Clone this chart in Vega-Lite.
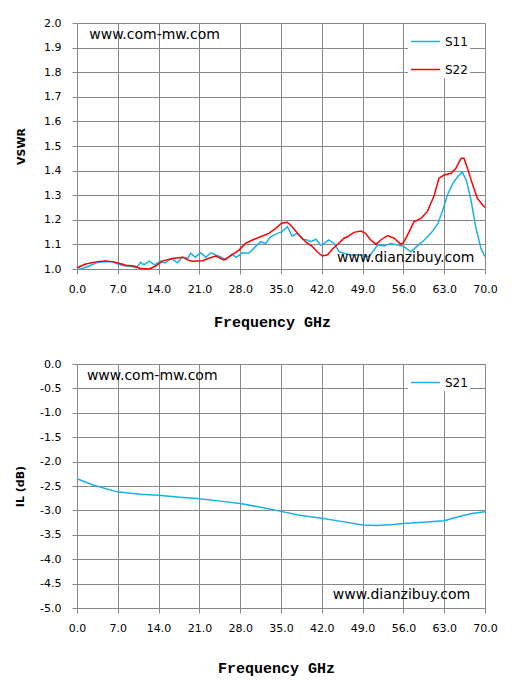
{
  "$schema": "https://vega.github.io/schema/vega-lite/v6.json",
  "background": "white",
  "padding": {"left": 14, "top": 17, "right": 5, "bottom": 5},
  "config": {
    "view": {"stroke": null},
    "font": "DejaVu Sans",
    "axis": {
      "gridColor": "#878787",
      "gridOpacity": 1,
      "gridWidth": 1,
      "domainColor": "#878787",
      "tickColor": "#878787",
      "tickSize": 5,
      "labelColor": "#000000",
      "labelFont": "DejaVu Sans",
      "labelFontSize": 11,
      "labelFlush": false,
      "labelOverlap": false,
      "titleColor": "#000000"
    },
    "legend": {
      "symbolType": "stroke",
      "symbolSize": 841,
      "symbolStrokeWidth": 1.5,
      "labelFont": "DejaVu Sans",
      "labelFontSize": 12,
      "labelColor": "#000000",
      "labelOffset": 4,
      "padding": 2,
      "rowPadding": 6,
      "fillColor": "white",
      "strokeColor": null
    }
  },
  "datasets": {
    "vswr": [
      {"s": "S11", "f": 0, "v": 1.01}, {"s": "S11", "f": 0.7, "v": 1.0}, {"s": "S11", "f": 1.9, "v": 1.01},
      {"s": "S11", "f": 3.3, "v": 1.025}, {"s": "S11", "f": 4.9, "v": 1.03}, {"s": "S11", "f": 6.1, "v": 1.028},
      {"s": "S11", "f": 7.0, "v": 1.02}, {"s": "S11", "f": 8.1, "v": 1.013}, {"s": "S11", "f": 9.3, "v": 1.01},
      {"s": "S11", "f": 10.2, "v": 1.005}, {"s": "S11", "f": 10.9, "v": 1.027}, {"s": "S11", "f": 11.5, "v": 1.017},
      {"s": "S11", "f": 12.4, "v": 1.032}, {"s": "S11", "f": 13.3, "v": 1.017}, {"s": "S11", "f": 14.3, "v": 1.032},
      {"s": "S11", "f": 15.1, "v": 1.025}, {"s": "S11", "f": 16.2, "v": 1.043}, {"s": "S11", "f": 17.2, "v": 1.025},
      {"s": "S11", "f": 18.1, "v": 1.048}, {"s": "S11", "f": 19.0, "v": 1.043}, {"s": "S11", "f": 19.5, "v": 1.064},
      {"s": "S11", "f": 20.3, "v": 1.048}, {"s": "S11", "f": 21.2, "v": 1.066}, {"s": "S11", "f": 22.1, "v": 1.048},
      {"s": "S11", "f": 23.0, "v": 1.066}, {"s": "S11", "f": 23.8, "v": 1.057}, {"s": "S11", "f": 24.6, "v": 1.05},
      {"s": "S11", "f": 25.5, "v": 1.037}, {"s": "S11", "f": 26.6, "v": 1.061}, {"s": "S11", "f": 27.3, "v": 1.047},
      {"s": "S11", "f": 28.4, "v": 1.066}, {"s": "S11", "f": 29.5, "v": 1.064}, {"s": "S11", "f": 30.6, "v": 1.091},
      {"s": "S11", "f": 31.5, "v": 1.111}, {"s": "S11", "f": 32.4, "v": 1.104}, {"s": "S11", "f": 33.2, "v": 1.131},
      {"s": "S11", "f": 34.4, "v": 1.145}, {"s": "S11", "f": 35.2, "v": 1.152}, {"s": "S11", "f": 36.1, "v": 1.172},
      {"s": "S11", "f": 36.9, "v": 1.134}, {"s": "S11", "f": 37.8, "v": 1.145}, {"s": "S11", "f": 38.7, "v": 1.121},
      {"s": "S11", "f": 39.5, "v": 1.118}, {"s": "S11", "f": 40.1, "v": 1.111}, {"s": "S11", "f": 41.0, "v": 1.121},
      {"s": "S11", "f": 41.8, "v": 1.097}, {"s": "S11", "f": 42.4, "v": 1.104}, {"s": "S11", "f": 43.2, "v": 1.118},
      {"s": "S11", "f": 44.1, "v": 1.104}, {"s": "S11", "f": 45.0, "v": 1.07}, {"s": "S11", "f": 45.8, "v": 1.064},
      {"s": "S11", "f": 47.0, "v": 1.057}, {"s": "S11", "f": 48.7, "v": 1.057}, {"s": "S11", "f": 50.1, "v": 1.05},
      {"s": "S11", "f": 51.6, "v": 1.098}, {"s": "S11", "f": 52.7, "v": 1.094}, {"s": "S11", "f": 53.8, "v": 1.104},
      {"s": "S11", "f": 55.0, "v": 1.098}, {"s": "S11", "f": 56.1, "v": 1.091}, {"s": "S11", "f": 57.3, "v": 1.07},
      {"s": "S11", "f": 58.4, "v": 1.094}, {"s": "S11", "f": 59.6, "v": 1.118}, {"s": "S11", "f": 60.7, "v": 1.145},
      {"s": "S11", "f": 61.9, "v": 1.183}, {"s": "S11", "f": 62.7, "v": 1.236}, {"s": "S11", "f": 63.6, "v": 1.304},
      {"s": "S11", "f": 64.5, "v": 1.348}, {"s": "S11", "f": 65.3, "v": 1.375}, {"s": "S11", "f": 66.1, "v": 1.394},
      {"s": "S11", "f": 66.8, "v": 1.36}, {"s": "S11", "f": 67.6, "v": 1.28}, {"s": "S11", "f": 68.4, "v": 1.172},
      {"s": "S11", "f": 69.3, "v": 1.084}, {"s": "S11", "f": 70.0, "v": 1.05},
      {"s": "S22", "f": 0, "v": 1.005}, {"s": "S22", "f": 1.5, "v": 1.02}, {"s": "S22", "f": 3.5, "v": 1.03},
      {"s": "S22", "f": 4.9, "v": 1.033}, {"s": "S22", "f": 6.1, "v": 1.03}, {"s": "S22", "f": 7.2, "v": 1.023},
      {"s": "S22", "f": 8.4, "v": 1.015}, {"s": "S22", "f": 9.8, "v": 1.012}, {"s": "S22", "f": 10.7, "v": 1.003},
      {"s": "S22", "f": 12.4, "v": 1.0}, {"s": "S22", "f": 13.5, "v": 1.012}, {"s": "S22", "f": 14.7, "v": 1.033},
      {"s": "S22", "f": 16.4, "v": 1.043}, {"s": "S22", "f": 18.1, "v": 1.048}, {"s": "S22", "f": 19.0, "v": 1.037},
      {"s": "S22", "f": 19.8, "v": 1.032}, {"s": "S22", "f": 21.5, "v": 1.034}, {"s": "S22", "f": 23.0, "v": 1.047},
      {"s": "S22", "f": 23.8, "v": 1.053}, {"s": "S22", "f": 25.2, "v": 1.037}, {"s": "S22", "f": 26.6, "v": 1.057},
      {"s": "S22", "f": 27.8, "v": 1.077}, {"s": "S22", "f": 28.9, "v": 1.104}, {"s": "S22", "f": 30.1, "v": 1.118},
      {"s": "S22", "f": 31.5, "v": 1.131}, {"s": "S22", "f": 32.9, "v": 1.145}, {"s": "S22", "f": 34.1, "v": 1.165},
      {"s": "S22", "f": 35.1, "v": 1.186}, {"s": "S22", "f": 36.1, "v": 1.19}, {"s": "S22", "f": 36.9, "v": 1.172},
      {"s": "S22", "f": 38.1, "v": 1.138}, {"s": "S22", "f": 39.2, "v": 1.111}, {"s": "S22", "f": 40.4, "v": 1.091},
      {"s": "S22", "f": 41.2, "v": 1.07}, {"s": "S22", "f": 42.1, "v": 1.053}, {"s": "S22", "f": 43.0, "v": 1.058},
      {"s": "S22", "f": 43.8, "v": 1.08}, {"s": "S22", "f": 45.0, "v": 1.107}, {"s": "S22", "f": 45.8, "v": 1.125},
      {"s": "S22", "f": 46.4, "v": 1.131}, {"s": "S22", "f": 47.5, "v": 1.149}, {"s": "S22", "f": 48.7, "v": 1.154},
      {"s": "S22", "f": 49.5, "v": 1.145}, {"s": "S22", "f": 50.4, "v": 1.118}, {"s": "S22", "f": 51.3, "v": 1.1},
      {"s": "S22", "f": 52.1, "v": 1.118}, {"s": "S22", "f": 53.3, "v": 1.136}, {"s": "S22", "f": 54.4, "v": 1.125},
      {"s": "S22", "f": 55.6, "v": 1.1}, {"s": "S22", "f": 56.1, "v": 1.111}, {"s": "S22", "f": 57.0, "v": 1.152},
      {"s": "S22", "f": 57.8, "v": 1.192}, {"s": "S22", "f": 59.0, "v": 1.206}, {"s": "S22", "f": 60.1, "v": 1.233},
      {"s": "S22", "f": 61.3, "v": 1.3}, {"s": "S22", "f": 62.1, "v": 1.369}, {"s": "S22", "f": 63.0, "v": 1.382},
      {"s": "S22", "f": 64.2, "v": 1.389}, {"s": "S22", "f": 65.0, "v": 1.409}, {"s": "S22", "f": 65.9, "v": 1.45},
      {"s": "S22", "f": 66.4, "v": 1.45}, {"s": "S22", "f": 67.0, "v": 1.409}, {"s": "S22", "f": 67.9, "v": 1.341},
      {"s": "S22", "f": 68.7, "v": 1.287}, {"s": "S22", "f": 69.6, "v": 1.26}, {"s": "S22", "f": 70.0, "v": 1.25}
    ],
    "il": [
      {"s": "S21", "f": 0, "v": -2.35}, {"s": "S21", "f": 2.75, "v": -2.48}, {"s": "S21", "f": 6.9, "v": -2.62},
      {"s": "S21", "f": 10.8, "v": -2.67}, {"s": "S21", "f": 14, "v": -2.69}, {"s": "S21", "f": 17.7, "v": -2.73},
      {"s": "S21", "f": 21, "v": -2.76}, {"s": "S21", "f": 24.6, "v": -2.81}, {"s": "S21", "f": 28, "v": -2.86},
      {"s": "S21", "f": 31.3, "v": -2.93}, {"s": "S21", "f": 35, "v": -3.02}, {"s": "S21", "f": 38.2, "v": -3.1},
      {"s": "S21", "f": 42, "v": -3.16}, {"s": "S21", "f": 45.6, "v": -3.23}, {"s": "S21", "f": 49, "v": -3.3},
      {"s": "S21", "f": 51.4, "v": -3.31}, {"s": "S21", "f": 54.3, "v": -3.29}, {"s": "S21", "f": 56, "v": -3.27},
      {"s": "S21", "f": 58.8, "v": -3.25}, {"s": "S21", "f": 63, "v": -3.21}, {"s": "S21", "f": 65.7, "v": -3.12},
      {"s": "S21", "f": 68, "v": -3.06}, {"s": "S21", "f": 70, "v": -3.03}
    ],
    "notes_top": [
      {"t": "www.com-mw.com", "f": 2.1, "v": 1.951},
      {"t": "www.dianzibuy.com", "f": 44.6, "v": 1.045}
    ],
    "notes_bottom": [
      {"t": "www.com-mw.com", "f": 1.7, "v": -0.24},
      {"t": "www.dianzibuy.com", "f": 43.9, "v": -4.74}
    ]
  },
  "bounds": "flush",
  "spacing": 95,
  "resolve": {
    "scale": {"color": "independent", "x": "independent", "y": "independent"},
    "legend": {"color": "independent"}
  },
  "vconcat": [
    {
      "width": 408,
      "height": 246,
      "layer": [
        {
          "data": {"name": "vswr"},
          "mark": {"type": "line", "strokeWidth": 1.5},
          "encoding": {
            "x": {
              "field": "f",
              "type": "quantitative",
              "scale": {"domain": [0, 70], "nice": false},
              "axis": {
                "values": [0, 7, 14, 21, 28, 35, 42, 49, 56, 63, 70],
                "tickCount": 11,
                "format": ".1f",
                "title": "Frequency GHz",
                "titleFont": "Liberation Mono",
                "titleFontSize": 15,
                "titleFontWeight": "bold",
                "labelPadding": 9,
                "titlePadding": 20,
                "titleX": 195
              }
            },
            "y": {
              "field": "v",
              "type": "quantitative",
              "scale": {"domain": [1, 2], "nice": false, "zero": false},
              "axis": {
                "values": [1, 1.1, 1.2, 1.3, 1.4, 1.5, 1.6, 1.7, 1.8, 1.9, 2],
                "tickCount": 11,
                "format": ".1f",
                "title": "VSWR",
                "titleFontSize": 11,
                "titleFontWeight": "bold",
                "labelPadding": 11,
                "titlePadding": 17
              }
            },
            "color": {
              "field": "s",
              "type": "nominal",
              "scale": {"domain": ["S11", "S22"], "range": ["#1aaeea", "#ff0000"]},
              "legend": {"title": null, "orient": "none", "legendX": 331, "legendY": 1}
            }
          }
        },
        {
          "data": {"name": "notes_top"},
          "mark": {"type": "text", "align": "left", "baseline": "middle", "fontSize": 14, "font": "DejaVu Sans", "color": "#000000"},
          "encoding": {
            "x": {"field": "f", "type": "quantitative"},
            "y": {"field": "v", "type": "quantitative"},
            "text": {"field": "t"}
          }
        }
      ]
    },
    {
      "width": 408,
      "height": 244,
      "layer": [
        {
          "data": {"name": "il"},
          "mark": {"type": "line", "strokeWidth": 1.5},
          "encoding": {
            "x": {
              "field": "f",
              "type": "quantitative",
              "scale": {"domain": [0, 70], "nice": false},
              "axis": {
                "values": [0, 7, 14, 21, 28, 35, 42, 49, 56, 63, 70],
                "tickCount": 11,
                "format": ".1f",
                "title": "Frequency GHz",
                "titleFont": "Liberation Mono",
                "titleFontSize": 15,
                "titleFontWeight": "bold",
                "labelPadding": 9,
                "titlePadding": 27,
                "titleX": 199
              }
            },
            "y": {
              "field": "v",
              "type": "quantitative",
              "scale": {"domain": [-5, 0], "nice": false, "zero": false},
              "axis": {
                "values": [0, -0.5, -1, -1.5, -2, -2.5, -3, -3.5, -4, -4.5, -5],
                "tickCount": 11,
                "labelExpr": "replace(format(datum.value, '.1f'), '\u2212', '-')",
                "title": "IL (dB)",
                "titleFontSize": 11,
                "titleFontWeight": "bold",
                "labelPadding": 11,
                "titlePadding": 14
              }
            },
            "color": {
              "field": "s",
              "type": "nominal",
              "scale": {"domain": ["S21"], "range": ["#1aaeea"]},
              "legend": {"title": null, "orient": "none", "legendX": 331, "legendY": 1}
            }
          }
        },
        {
          "data": {"name": "notes_bottom"},
          "mark": {"type": "text", "align": "left", "baseline": "middle", "fontSize": 14, "font": "DejaVu Sans", "color": "#000000"},
          "encoding": {
            "x": {"field": "f", "type": "quantitative"},
            "y": {"field": "v", "type": "quantitative"},
            "text": {"field": "t"}
          }
        }
      ]
    }
  ]
}
